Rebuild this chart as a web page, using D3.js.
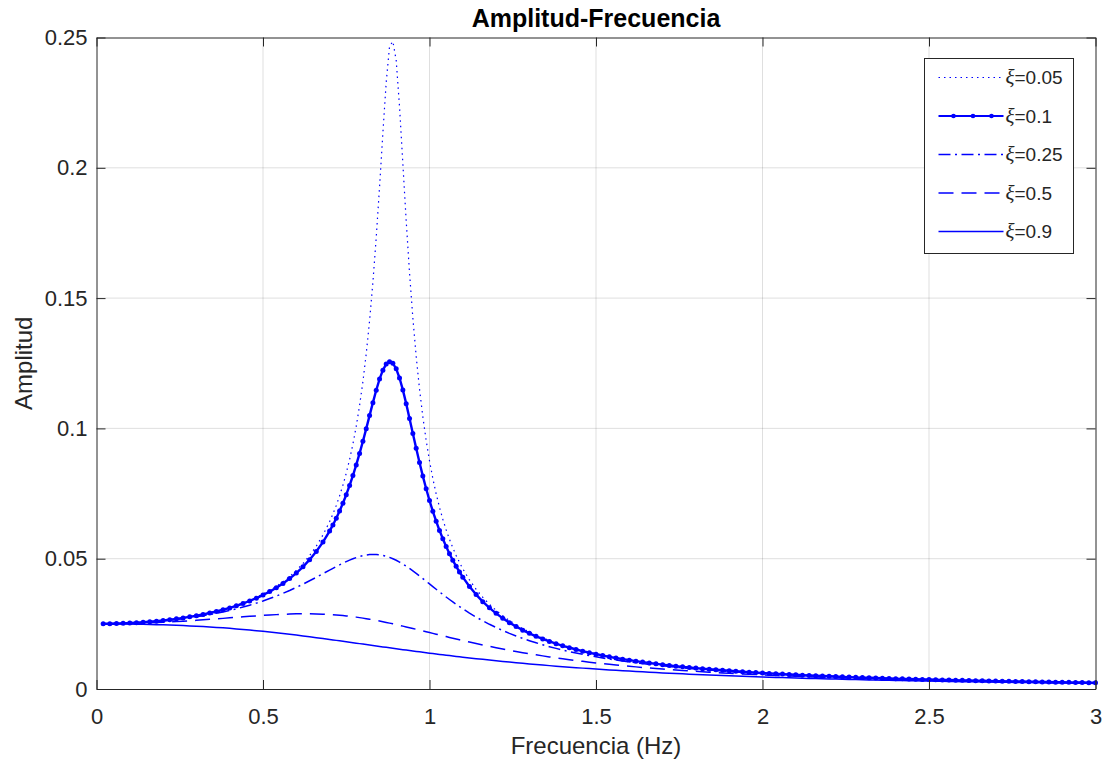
<!DOCTYPE html>
<html>
<head>
<meta charset="utf-8">
<script src="https://cdn.jsdelivr.net/npm/d3@7"></script>
<style>
body { margin: 0; background: #fff; }
svg { display: block; font-family: "Liberation Sans", Arial, sans-serif; }
</style>
</head>
<body>
<svg></svg>
<script>
var width = 1106
var height = 764
var margin = ({top: 37.5, right: 10.5, bottom: 75, left: 96.5})

// frequency (Hz)
var freq = [
  0.02,0.04,0.06,0.08,0.1,0.12,0.14,0.16,0.18,0.2,
  0.22,0.24,0.26,0.28,0.3,0.32,0.34,0.36,0.38,0.4,
  0.42,0.44,0.46,0.48,0.5,0.52,0.54,0.56,0.58,0.6,
  0.62,0.64,0.66,0.68,0.7,
  0.71,0.72,0.73,0.74,0.75,0.76,0.77,0.78,0.79,0.8,
  0.81,0.82,0.83,0.84,0.85,0.86,0.87,0.88,0.89,0.9,
  0.91,0.92,0.93,0.94,0.95,0.96,0.97,0.98,0.99,1,
  1.01,1.02,1.03,1.04,1.05,1.06,1.07,1.08,1.09,1.1,
  1.12,1.14,1.16,1.18,1.2,1.22,1.24,1.26,1.28,1.3,
  1.32,1.34,1.36,1.38,1.4,1.42,1.44,1.46,1.48,1.5,
  1.52,1.54,1.56,1.58,1.6,1.62,1.64,1.66,1.68,1.7,
  1.72,1.74,1.76,1.78,1.8,1.82,1.84,1.86,1.88,1.9,
  1.92,1.94,1.96,1.98,2,2.02,2.04,2.06,2.08,2.1,
  2.12,2.14,2.16,2.18,2.2,2.22,2.24,2.26,2.28,2.3,
  2.32,2.34,2.36,2.38,2.4,2.42,2.44,2.46,2.48,2.5,
  2.52,2.54,2.56,2.58,2.6,2.62,2.64,2.66,2.68,2.7,
  2.72,2.74,2.76,2.78,2.8,2.82,2.84,2.86,2.88,2.9,
  2.92,2.94,2.96,2.98,3
];

var amp005 = [
  0.02501,0.02505,0.02511,0.02520,0.02532,0.02546,0.02563,0.02583,0.02606,0.02632,
  0.02662,0.02695,0.02732,0.02773,0.02818,0.02869,0.02924,0.02986,0.03053,0.03128,
  0.03210,0.03302,0.03403,0.03515,0.03641,0.03781,0.03938,0.04116,0.04318,0.04548,
  0.04813,0.05121,0.05481,0.05908,0.06420,
  0.06716,0.07045,0.07411,0.07821,0.08282,0.08805,0.09400,0.10084,0.10874,0.11792,
  0.12865,0.14125,0.15603,0.17321,0.19264,0.21336,0.23281,0.24662,0.2485,0.24127,
  0.22342,0.20155,0.17965,0.15972,0.14240,0.12764,0.11511,0.10447,0.09538,0.08756,
  0.08080,0.07490,0.06973,0.06515,0.06109,0.05745,0.05419,0.05124,0.04857,0.04614,
  0.04187,0.03826,0.03517,0.03249,0.03016,0.02810,0.02628,0.02465,0.02319,0.02187,
  0.02068,0.01960,0.01860,0.01770,0.01686,0.01609,0.01538,0.01471,0.01410,0.01353,
  0.01299,0.01249,0.01202,0.01158,0.01117,0.01077,0.01041,0.01006,0.00973,0.00942,
  0.00912,0.00884,0.00857,0.00832,0.00807,0.00784,0.00762,0.00741,0.00721,0.00702,
  0.00683,0.00665,0.00648,0.00632,0.00616,0.00601,0.00587,0.00573,0.00560,0.00547,
  0.00534,0.00522,0.00511,0.00499,0.00489,0.00478,0.00468,0.00458,0.00449,0.00440,
  0.00431,0.00422,0.00414,0.00406,0.00398,0.00391,0.00383,0.00376,0.00369,0.00363,
  0.00356,0.00350,0.00343,0.00337,0.00332,0.00326,0.00320,0.00315,0.00310,0.00305,
  0.00300,0.00295,0.00290,0.00285,0.00281,0.00276,0.00272,0.00268,0.00264,0.00260,
  0.00256,0.00252,0.00248,0.00245,0.00241
];

var amp01 = [
  0.02501,0.02505,0.02511,0.02520,0.02531,0.02545,0.02562,0.02582,0.02604,0.02630,
  0.02659,0.02692,0.02728,0.02768,0.02812,0.02861,0.02916,0.02975,0.03041,0.03113,
  0.03193,0.03281,0.03378,0.03485,0.03605,0.03737,0.03886,0.04052,0.04238,0.04449,
  0.04688,0.04962,0.05276,0.05638,0.06060,
  0.06296,0.06552,0.06830,0.07130,0.07456,0.07809,0.08190,0.08600,0.09039,0.09504,
  0.09991,0.10491,0.10988,0.11464,0.11891,0.12236,0.12469,0.12562,0.12500,0.12285,
  0.11934,0.11478,0.10950,0.10384,0.09806,0.09236,0.08688,0.08170,0.07685,0.07235,
  0.06820,0.06438,0.06086,0.05763,0.05465,0.05192,0.04939,0.04706,0.04491,0.04291,
  0.03933,0.03623,0.03352,0.03114,0.02903,0.02715,0.02547,0.02396,0.02259,0.02136,
  0.02023,0.01920,0.01825,0.01738,0.01658,0.01584,0.01515,0.01451,0.01392,0.01336,
  0.01284,0.01235,0.01190,0.01146,0.01106,0.01068,0.01032,0.00997,0.00965,0.00934,
  0.00905,0.00877,0.00851,0.00826,0.00802,0.00779,0.00758,0.00737,0.00717,0.00698,
  0.00680,0.00662,0.00645,0.00629,0.00614,0.00599,0.00584,0.00571,0.00557,0.00544,
  0.00532,0.00520,0.00509,0.00498,0.00487,0.00477,0.00467,0.00457,0.00448,0.00438,
  0.00430,0.00421,0.00413,0.00405,0.00397,0.00390,0.00382,0.00375,0.00368,0.00362,
  0.00355,0.00349,0.00343,0.00337,0.00331,0.00325,0.00320,0.00314,0.00309,0.00304,
  0.00299,0.00294,0.00289,0.00285,0.00280,0.00276,0.00272,0.00267,0.00263,0.00259,
  0.00256,0.00252,0.00248,0.00244,0.00241
];

var amp025 = [
  0.02501,0.02504,0.02510,0.02518,0.02528,0.02540,0.02555,0.02572,0.02592,0.02615,
  0.02640,0.02668,0.02699,0.02733,0.02771,0.02812,0.02857,0.02905,0.02958,0.03016,
  0.03078,0.03145,0.03217,0.03295,0.03379,0.03470,0.03567,0.03671,0.03781,0.03899,
  0.04023,0.04153,0.04287,0.04425,0.04564,
  0.04632,0.04699,0.04765,0.04828,0.04888,0.04945,0.04996,0.05043,0.05082,0.05115,
  0.05140,0.05157,0.05164,0.05161,0.05149,0.05126,0.05094,0.05052,0.05000,0.04940,
  0.04871,0.04795,0.04713,0.04625,0.04532,0.04436,0.04337,0.04236,0.04134,0.04032,
  0.03929,0.03828,0.03727,0.03628,0.03530,0.03435,0.03342,0.03251,0.03163,0.03077,
  0.02913,0.02760,0.02616,0.02483,0.02359,0.02243,0.02135,0.02035,0.01941,0.01854,
  0.01773,0.01696,0.01625,0.01559,0.01496,0.01437,0.01382,0.01330,0.01281,0.01235,
  0.01191,0.01150,0.01111,0.01074,0.01039,0.01006,0.00974,0.00944,0.00915,0.00888,
  0.00862,0.00837,0.00813,0.00791,0.00769,0.00748,0.00728,0.00709,0.00691,0.00673,
  0.00656,0.00640,0.00624,0.00609,0.00595,0.00581,0.00568,0.00555,0.00542,0.00530,
  0.00518,0.00507,0.00496,0.00486,0.00476,0.00466,0.00456,0.00447,0.00438,0.00429,
  0.00421,0.00413,0.00405,0.00397,0.00390,0.00383,0.00375,0.00369,0.00362,0.00356,
  0.00349,0.00343,0.00337,0.00331,0.00326,0.00320,0.00315,0.00310,0.00305,0.00300,
  0.00295,0.00290,0.00286,0.00281,0.00277,0.00272,0.00268,0.00264,0.00260,0.00256,
  0.00253,0.00249,0.00245,0.00242,0.00239
];

var amp05 = [
  0.02501,0.02503,0.02506,0.02510,0.02516,0.02523,0.02531,0.02540,0.02551,0.02562,
  0.02575,0.02589,0.02604,0.02620,0.02636,0.02654,0.02672,0.02691,0.02710,0.02730,
  0.02749,0.02769,0.02788,0.02806,0.02824,0.02840,0.02854,0.02866,0.02876,0.02883,
  0.02886,0.02886,0.02882,0.02873,0.02860,
  0.02852,0.02842,0.02831,0.02819,0.02805,0.02791,0.02775,0.02758,0.02739,0.02720,
  0.02699,0.02678,0.02655,0.02631,0.02607,0.02581,0.02555,0.02528,0.02500,0.02472,
  0.02443,0.02413,0.02383,0.02353,0.02322,0.02292,0.02261,0.02229,0.02198,0.02167,
  0.02135,0.02104,0.02073,0.02042,0.02011,0.01980,0.01950,0.01920,0.01890,0.01860,
  0.01802,0.01746,0.01691,0.01637,0.01585,0.01535,0.01487,0.01440,0.01395,0.01352,
  0.01311,0.01271,0.01232,0.01195,0.01160,0.01125,0.01093,0.01061,0.01031,0.01002,
  0.00974,0.00947,0.00921,0.00896,0.00872,0.00849,0.00827,0.00806,0.00785,0.00766,
  0.00747,0.00728,0.00711,0.00693,0.00677,0.00661,0.00646,0.00631,0.00616,0.00603,
  0.00589,0.00576,0.00564,0.00552,0.00540,0.00528,0.00517,0.00507,0.00496,0.00486,
  0.00477,0.00467,0.00458,0.00449,0.00440,0.00432,0.00424,0.00416,0.00408,0.00401,
  0.00393,0.00386,0.00379,0.00373,0.00366,0.00360,0.00354,0.00348,0.00342,0.00336,
  0.00330,0.00325,0.00320,0.00314,0.00309,0.00304,0.00300,0.00295,0.00290,0.00286,
  0.00282,0.00277,0.00273,0.00269,0.00265,0.00261,0.00257,0.00253,0.00250,0.00246,
  0.00243,0.00239,0.00236,0.00233,0.00229
];

var amp09 = [
  0.02500,0.02499,0.02497,0.02494,0.02491,0.02487,0.02482,0.02477,0.02470,0.02462,
  0.02454,0.02444,0.02434,0.02422,0.02410,0.02396,0.02380,0.02364,0.02346,0.02327,
  0.02307,0.02285,0.02263,0.02238,0.02213,0.02186,0.02158,0.02129,0.02099,0.02068,
  0.02036,0.02004,0.01970,0.01936,0.01901,
  0.01884,0.01866,0.01848,0.01831,0.01813,0.01795,0.01777,0.01759,0.01741,0.01723,
  0.01705,0.01687,0.01669,0.01651,0.01633,0.01616,0.01598,0.01580,0.01563,0.01545,
  0.01528,0.01510,0.01493,0.01476,0.01459,0.01442,0.01425,0.01409,0.01392,0.01376,
  0.01360,0.01344,0.01328,0.01312,0.01297,0.01281,0.01266,0.01251,0.01236,0.01222,
  0.01193,0.01164,0.01137,0.01110,0.01084,0.01058,0.01033,0.01009,0.00985,0.00963,
  0.00940,0.00919,0.00897,0.00877,0.00857,0.00838,0.00819,0.00801,0.00783,0.00766,
  0.00749,0.00733,0.00717,0.00702,0.00687,0.00672,0.00658,0.00644,0.00631,0.00618,
  0.00606,0.00593,0.00582,0.00570,0.00559,0.00548,0.00537,0.00527,0.00517,0.00507,
  0.00497,0.00488,0.00479,0.00470,0.00462,0.00453,0.00445,0.00437,0.00429,0.00422,
  0.00415,0.00407,0.00400,0.00394,0.00387,0.00380,0.00374,0.00368,0.00362,0.00356,
  0.00350,0.00345,0.00339,0.00334,0.00328,0.00323,0.00318,0.00313,0.00309,0.00304,
  0.00299,0.00295,0.00290,0.00286,0.00282,0.00278,0.00274,0.00270,0.00266,0.00262,
  0.00259,0.00255,0.00251,0.00248,0.00245,0.00241,0.00238,0.00235,0.00232,0.00229,
  0.00226,0.00223,0.00220,0.00217,0.00214
];

var xiLabels = ["0.05", "0.1", "0.25", "0.5", "0.9"];
var xTicks = [0, 0.5, 1, 1.5, 2, 2.5, 3];
var yTicks = [0, 0.05, 0.1, 0.15, 0.2, 0.25];

// line style per series (same order as xiLabels)
var styles = [
  {dash: "1.5,4", width: 1.2, dot: false},
  {dash: null, width: 2.4, dot: true},
  {dash: "12,4.5,2,4.5", width: 1.5, dot: false},
  {dash: "15,8", width: 1.5, dot: false},
  {dash: null, width: 1.5, dot: false}
];

var series = [amp005, amp01, amp025, amp05, amp09].map((v, i) => ({
  name: xiLabels[i],
  values: v,
  style: styles[i]
}));

var blue = "#0000ff"
var axisColor = "#262626"

var x = d3.scaleLinear()
    .domain([0, 3])
    .range([margin.left, width - margin.right])
var y = d3.scaleLinear()
    .domain([0, 0.25])
    .range([height - margin.bottom, margin.top])

var fmt = d => String(d)

const svg = d3.select("svg")
    .attr("width", width)
    .attr("height", height)
    .attr("viewBox", [0, 0, width, height]);

// grid
svg.append("g")
    .attr("stroke", axisColor)
    .attr("stroke-opacity", 0.15)
    .attr("stroke-width", 1)
    .call(g => g.selectAll("line.gx").data(xTicks.slice(1, -1)).enter().append("line")
        .attr("x1", d => x(d)).attr("x2", d => x(d))
        .attr("y1", y(0)).attr("y2", y(0.25)))
    .call(g => g.selectAll("line.gy").data(yTicks.slice(1, -1)).enter().append("line")
        .attr("y1", d => y(d)).attr("y2", d => y(d))
        .attr("x1", x(0)).attr("x2", x(3)));

// curves
var line = d3.line()
    .x((d, i) => x(freq[i]))
    .y(d => y(d))

const curves = svg.append("g")
    .attr("fill", "none")
    .attr("stroke", blue)
    .attr("stroke-linejoin", "round");

curves.selectAll("path")
    .data(series)
    .enter().append("path")
    .attr("stroke-width", d => d.style.width)
    .attr("stroke-dasharray", d => d.style.dash)
    .attr("d", d => line(d.values));

// markers for xi=0.1
svg.append("g")
    .attr("fill", blue)
    .selectAll("circle")
    .data(amp01)
    .enter().append("circle")
    .attr("cx", (d, i) => x(freq[i]))
    .attr("cy", d => y(d))
    .attr("r", 2.5);

// axes (ticks inward, on all four sides)
var tickLen = 9
var styleAxis = g => g
    .call(g => g.select(".domain").attr("stroke", axisColor))
    .call(g => g.selectAll(".tick line").attr("stroke", axisColor))
    .call(g => g.selectAll(".tick text")
        .attr("fill", axisColor)
        .style("font-family", "'Liberation Sans', Arial, sans-serif")
        .style("font-size", "22px"))

svg.append("g")
    .attr("transform", `translate(0,${y(0)})`)
    .call(d3.axisBottom(x).tickValues(xTicks).tickFormat(fmt)
        .tickSize(-tickLen).tickSizeOuter(0).tickPadding(19))
    .call(styleAxis);

svg.append("g")
    .attr("transform", `translate(0,${y(0.25)})`)
    .call(d3.axisTop(x).tickValues(xTicks).tickFormat("")
        .tickSize(-tickLen).tickSizeOuter(0))
    .call(styleAxis);

svg.append("g")
    .attr("transform", `translate(${x(0)},0)`)
    .call(d3.axisLeft(y).tickValues(yTicks).tickFormat(fmt)
        .tickSize(-tickLen).tickSizeOuter(0).tickPadding(9))
    .call(styleAxis);

svg.append("g")
    .attr("transform", `translate(${x(3)},0)`)
    .call(d3.axisRight(y).tickValues(yTicks).tickFormat("")
        .tickSize(-tickLen).tickSizeOuter(0))
    .call(styleAxis);

// title and labels
svg.append("text")
    .attr("x", (x(0) + x(3)) / 2)
    .attr("y", 27)
    .attr("text-anchor", "middle")
    .attr("fill", "#000")
    .style("font-size", "25px")
    .style("font-weight", "bold")
    .text("Amplitud-Frecuencia");

svg.append("text")
    .attr("x", (x(0) + x(3)) / 2)
    .attr("y", 754)
    .attr("text-anchor", "middle")
    .attr("fill", axisColor)
    .style("font-size", "24px")
    .text("Frecuencia (Hz)");

svg.append("text")
    .attr("transform", `translate(32,${(y(0) + y(0.25)) / 2}) rotate(-90)`)
    .attr("text-anchor", "middle")
    .attr("fill", axisColor)
    .style("font-size", "24px")
    .text("Amplitud");

// legend
var legX = 924.5, legY = 58.5, legW = 149, legH = 195, rowH = 38.5
const legend = svg.append("g");

legend.append("rect")
    .attr("x", legX).attr("y", legY)
    .attr("width", legW).attr("height", legH)
    .attr("fill", "#fff")
    .attr("stroke", axisColor)
    .attr("stroke-width", 1);

const row = legend.selectAll("g.row")
    .data(series)
    .enter().append("g")
    .attr("transform", (d, i) => `translate(${legX},${legY + 19 + i * rowH})`);

row.append("line")
    .attr("x1", 14).attr("x2", 79)
    .attr("stroke", blue)
    .attr("stroke-width", d => Math.min(d.style.width, 2))
    .attr("stroke-dasharray", d => d.style.dash);

row.filter(d => d.style.dot).selectAll("circle")
    .data([29, 48.5, 67])
    .enter().append("circle")
    .attr("cx", d => d)
    .attr("r", 2.3)
    .attr("fill", blue);

const lt = row.append("text")
    .attr("x", 81)
    .attr("dy", "0.35em")
    .attr("fill", axisColor)
    .style("font-size", "19px");
lt.append("tspan")
    .style("font-family", "'Liberation Serif', serif")
    .style("font-style", "italic")
    .style("font-size", "21px")
    .text("ξ");
lt.append("tspan")
    .text(d => "=" + d.name);
</script>
</body>
</html>
